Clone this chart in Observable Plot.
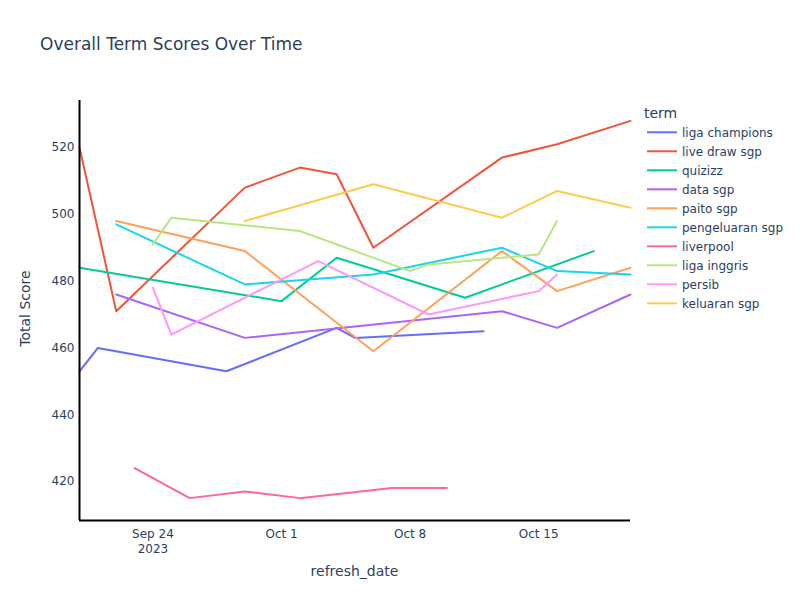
<!DOCTYPE html>
<html>
<head>
<meta charset="utf-8">
<script src="https://cdn.jsdelivr.net/npm/d3@7"></script>
<script src="https://cdn.jsdelivr.net/npm/@observablehq/plot@0.6"></script>
<style>
  body { margin: 0; background: #fff; font-family: "DejaVu Sans", sans-serif; }
  #wrap { position: relative; width: 800px; height: 600px; overflow: hidden; }
  #chart { position: absolute; left: 0; top: 0; }
  .txt { position: absolute; white-space: nowrap; color: #2a3f5f; }
</style>
</head>
<body>
<div id="wrap"><div id="chart"></div></div>
<script>
// ---- Data ----
const terms = ["liga champions", "live draw sgp", "quizizz", "data sgp", "paito sgp",
  "pengeluaran sgp", "liverpool", "liga inggris", "persib", "keluaran sgp"];
const termColors = ["#636efa", "#EF553B", "#00cc96", "#ab63fa", "#FFA15A",
  "#19d3f3", "#FF6692", "#B6E880", "#FF97FF", "#FECB52"];

const ligaChampionsDates = ["2023-09-20", "2023-09-21", "2023-09-28", "2023-10-04", "2023-10-05", "2023-10-12"];
const ligaChampionsScores = [453, 460, 453, 466, 463, 465];

const liveDrawSgpDates = ["2023-09-20", "2023-09-22", "2023-09-29", "2023-10-02", "2023-10-04", "2023-10-06", "2023-10-13", "2023-10-16", "2023-10-20"];
const liveDrawSgpScores = [520, 471, 508, 514, 512, 490, 517, 521, 528];

const quizizzDates = ["2023-09-20", "2023-10-01", "2023-10-04", "2023-10-11", "2023-10-18"];
const quizizzScores = [484, 474, 487, 475, 489];

const dataSgpDates = ["2023-09-22", "2023-09-29", "2023-10-13", "2023-10-16", "2023-10-20"];
const dataSgpScores = [476, 463, 471, 466, 476];

const paitoSgpDates = ["2023-09-22", "2023-09-29", "2023-10-06", "2023-10-13", "2023-10-16", "2023-10-20"];
const paitoSgpScores = [498, 489, 459, 489, 477, 484];

const pengeluaranSgpDates = ["2023-09-22", "2023-09-29", "2023-10-06", "2023-10-13", "2023-10-16", "2023-10-20"];
const pengeluaranSgpScores = [497, 479, 482, 490, 483, 482];

const liverpoolDates = ["2023-09-23", "2023-09-26", "2023-09-29", "2023-10-02", "2023-10-07", "2023-10-10"];
const liverpoolScores = [424, 415, 417, 415, 418, 418];

const ligaInggrisDates = ["2023-09-24", "2023-09-25", "2023-10-02", "2023-10-08", "2023-10-09", "2023-10-15", "2023-10-16"];
const ligaInggrisScores = [491, 499, 495, 483, 485, 488, 498];

const persibDates = ["2023-09-24", "2023-09-25", "2023-10-03", "2023-10-09", "2023-10-15", "2023-10-16"];
const persibScores = [478, 464, 486, 470, 477, 482];

const keluaranSgpDates = ["2023-09-29", "2023-10-06", "2023-10-13", "2023-10-16", "2023-10-20"];
const keluaranSgpScores = [498, 509, 499, 507, 502];

const xDomain = ["2023-09-20", "2023-10-20"];
const yDomain = [408.3, 534.1];
const xTicks = ["2023-09-24", "2023-10-01", "2023-10-08", "2023-10-15"];
const yTicks = [420, 440, 460, 480, 500, 520];

// ---- Build table ----
const seriesDates = [ligaChampionsDates, liveDrawSgpDates, quizizzDates, dataSgpDates, paitoSgpDates,
  pengeluaranSgpDates, liverpoolDates, ligaInggrisDates, persibDates, keluaranSgpDates];
const seriesScores = [ligaChampionsScores, liveDrawSgpScores, quizizzScores, dataSgpScores, paitoSgpScores,
  pengeluaranSgpScores, liverpoolScores, ligaInggrisScores, persibScores, keluaranSgpScores];

const parse = d3.utcParse("%Y-%m-%d");
const rows = [];
terms.forEach((t, i) => {
  seriesDates[i].forEach((d, j) => rows.push({term: t, date: parse(d), score: seriesScores[i][j]}));
});

const fmt = d3.utcFormat("%b %-d");
const xTickDates = xTicks.map(parse);

const chart = Plot.plot({
  width: 800,
  height: 600,
  marginLeft: 79,
  marginRight: 170,
  marginTop: 100,
  marginBottom: 80,
  style: {fontFamily: "'DejaVu Sans', sans-serif", fontSize: "12px", color: "#2a3f5f", background: "transparent"},
  x: {type: "utc", domain: xDomain.map(parse)},
  y: {domain: yDomain},
  color: {domain: terms, range: termColors},
  marks: [
    Plot.axisY(yTicks, {tickSize: 0, tickPadding: 5, label: null, fontSize: 12}),
    Plot.axisX(xTickDates, {
      tickSize: 0, tickPadding: 7, label: null, fontSize: 12, lineHeight: 1.25,
      tickFormat: (d, i) => i === 0 ? fmt(d) + "\n" + d.getUTCFullYear() : fmt(d)
    }),
    Plot.line(rows, {x: "date", y: "score", z: "term", stroke: "term", strokeWidth: 2}),
    Plot.ruleX([parse(xDomain[0])], {stroke: "#000", strokeWidth: 2}),
    Plot.ruleY([yDomain[0]], {stroke: "#000", strokeWidth: 2})
  ]
});
document.getElementById("chart").appendChild(chart);

// ---- Texts & legend ----
const wrap = document.getElementById("wrap");
function addText(str, left, top, size, extra) {
  const el = document.createElement("div");
  el.className = "txt";
  el.textContent = str;
  el.style.left = left + "px";
  el.style.top = top + "px";
  el.style.fontSize = size + "px";
  el.style.lineHeight = Math.round(size * 1.2) + "px";
  if (extra) Object.assign(el.style, extra);
  wrap.appendChild(el);
  return el;
}
addText("Overall Term Scores Over Time", 40, 34, 17);
addText("refresh_date", 0, 563, 14, {width: "709px", textAlign: "center"});
addText("Total Score", -25, 300, 14, {width: "100px", textAlign: "center", transform: "rotate(-90deg)", transformOrigin: "50% 50%"});
addText("term", 644, 105, 14);

const legendSvg = d3.select(wrap).append("svg")
  .attr("width", 40).attr("height", 220)
  .style("position", "absolute").style("left", "640px").style("top", "120px");
terms.forEach((t, i) => {
  const cy = 12.3 + 19 * i;
  legendSvg.append("line")
    .attr("x1", 7).attr("x2", 37).attr("y1", cy).attr("y2", cy)
    .attr("stroke", termColors[i]).attr("stroke-width", 2);
  addText(t, 682, 126 + 19 * i, 12);
});
</script>
</body>
</html>
